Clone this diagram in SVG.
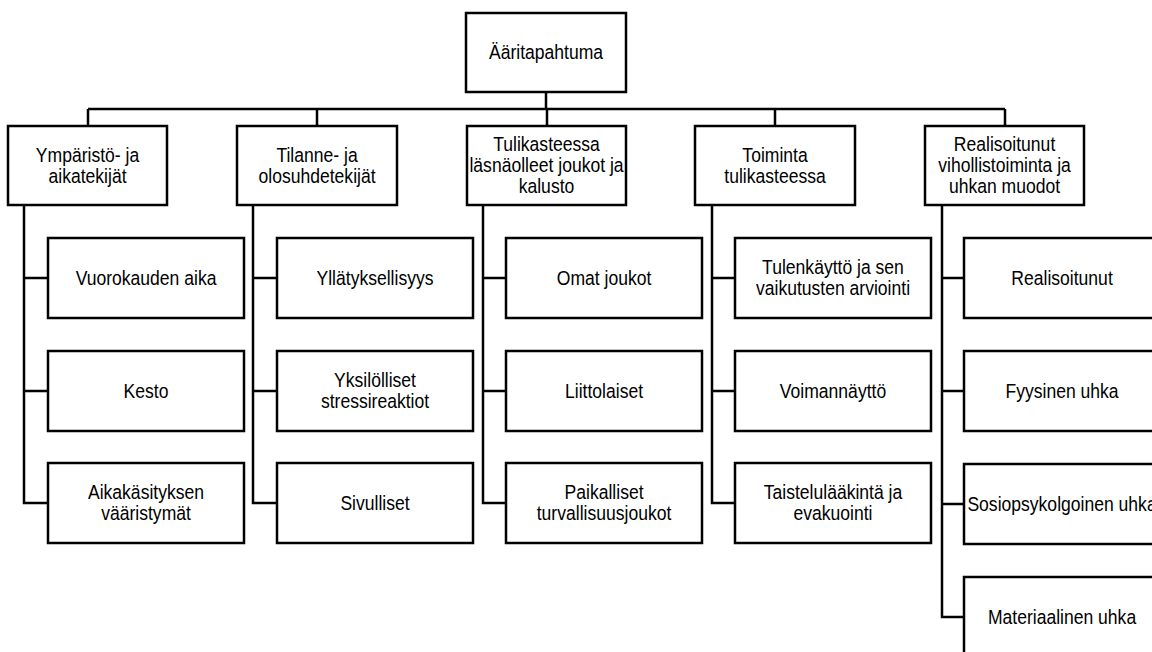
<svg xmlns="http://www.w3.org/2000/svg" width="1152" height="652" viewBox="0 0 1152 652">
<style>
.box{fill:#fff;stroke:#000;stroke-width:2.5}
.c{fill:none;stroke:#000;stroke-width:2.5}
text{font-family:"Liberation Sans",Arial,sans-serif;font-size:19.5px;fill:#000;text-anchor:middle;transform-box:fill-box;transform-origin:center;transform:scaleX(0.9)}
</style>
<rect width="1152" height="652" fill="#fff"/>
<g id="connectors">
<path class="c" d="M546 92V109M88 109H1005M88 109V126M317 109V126M547 109V126M775 109V126M1005 109V126"/>
<path class="c" d="M24 205V503H48M24 278H48M24 391H48"/>
<path class="c" d="M253 205V503H277M253 278H277M253 391H277"/>
<path class="c" d="M483 205V503H506M483 278H506M483 391H506"/>
<path class="c" d="M712 205V503H735M712 278H735M712 391H735"/>
<path class="c" d="M942 205V617H964M942 278H964M942 391H964M942 504H964"/>
</g>
<g id="root"><rect class="box" x="466" y="13" width="160" height="79"/><text x="546" y="59">Ääritapahtuma</text></g>
<g id="l1-1"><rect class="box" x="8" y="126" width="159" height="79"/><text x="87.5" y="162">Ympäristö- ja</text><text x="87.5" y="183">aikatekijät</text></g>
<g id="l1-2"><rect class="box" x="237" y="126" width="160" height="79"/><text x="317" y="162">Tilanne- ja</text><text x="317" y="183">olosuhdetekijät</text></g>
<g id="l1-3"><rect class="box" x="467" y="126" width="159" height="79"/><text x="546.5" y="151">Tulikasteessa</text><text x="546.5" y="172">läsnäolleet joukot ja</text><text x="546.5" y="193">kalusto</text></g>
<g id="l1-4"><rect class="box" x="695" y="126" width="160" height="79"/><text x="775" y="162">Toiminta</text><text x="775" y="183">tulikasteessa</text></g>
<g id="l1-5"><rect class="box" x="925" y="126" width="159" height="79"/><text x="1004.5" y="151">Realisoitunut</text><text x="1004.5" y="172">vihollistoiminta ja</text><text x="1004.5" y="193">uhkan muodot</text></g>

<g id="c1-1"><rect class="box" x="48" y="238" width="196" height="80"/><text x="146" y="285">Vuorokauden aika</text></g>
<g id="c1-2"><rect class="box" x="48" y="351" width="196" height="80"/><text x="146" y="398">Kesto</text></g>
<g id="c1-3"><rect class="box" x="48" y="463" width="196" height="80"/><text x="146" y="499">Aikakäsityksen</text><text x="146" y="520">vääristymät</text></g>

<g id="c2-1"><rect class="box" x="277" y="238" width="196" height="80"/><text x="375" y="285">Yllätyksellisyys</text></g>
<g id="c2-2"><rect class="box" x="277" y="351" width="196" height="80"/><text x="375" y="387">Yksilölliset</text><text x="375" y="408">stressireaktiot</text></g>
<g id="c2-3"><rect class="box" x="277" y="463" width="196" height="80"/><text x="375" y="510">Sivulliset</text></g>

<g id="c3-1"><rect class="box" x="506" y="238" width="196" height="80"/><text x="604" y="285">Omat joukot</text></g>
<g id="c3-2"><rect class="box" x="506" y="351" width="196" height="80"/><text x="604" y="398">Liittolaiset</text></g>
<g id="c3-3"><rect class="box" x="506" y="463" width="196" height="80"/><text x="604" y="499">Paikalliset</text><text x="604" y="520">turvallisuusjoukot</text></g>

<g id="c4-1"><rect class="box" x="735" y="238" width="196" height="80"/><text x="833" y="274">Tulenkäyttö ja sen</text><text x="833" y="295">vaikutusten arviointi</text></g>
<g id="c4-2"><rect class="box" x="735" y="351" width="196" height="80"/><text x="833" y="398">Voimannäyttö</text></g>
<g id="c4-3"><rect class="box" x="735" y="463" width="196" height="80"/><text x="833" y="499">Taistelulääkintä ja</text><text x="833" y="520">evakuointi</text></g>

<g id="c5-1"><rect class="box" x="964" y="238" width="196" height="80"/><text x="1062" y="285">Realisoitunut</text></g>
<g id="c5-2"><rect class="box" x="964" y="351" width="196" height="80"/><text x="1062" y="398">Fyysinen uhka</text></g>
<g id="c5-3"><rect class="box" x="964" y="464" width="196" height="80"/><text x="1062" y="511">Sosiopsykolgoinen uhka</text></g>
<g id="c5-4"><rect class="box" x="964" y="577" width="196" height="80"/><text x="1062" y="624">Materiaalinen uhka</text></g>
</svg>
